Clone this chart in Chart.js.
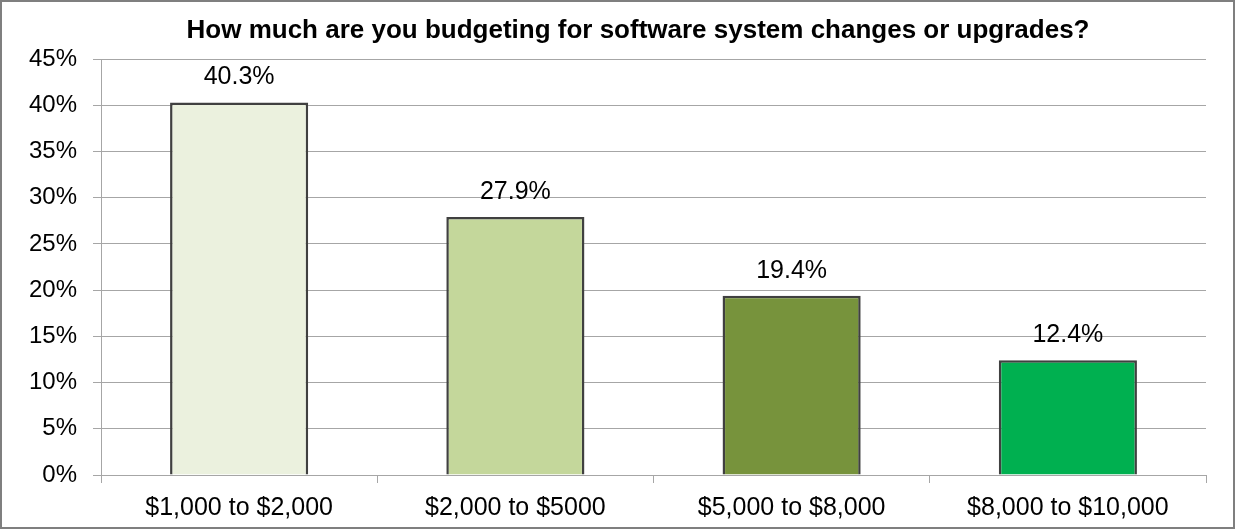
<!DOCTYPE html>
<html>
<head>
<meta charset="utf-8">
<title>Software budget</title>
<script src="https://cdn.jsdelivr.net/npm/chart.js@4.4.1/dist/chart.umd.min.js"></script>
<style>
    html, body { margin: 0; padding: 0; background: #fff; }
    canvas { display: block; }
</style>
</head>
<body>
<canvas id="budgetChart" width="1235" height="529"></canvas>
<script>
const chartTitle = "How much are you budgeting for software system changes or upgrades?";
const budgetRanges = ["$1,000 to $2,000", "$2,000 to $5000", "$5,000 to $8,000", "$8,000 to $10,000"];
const shares = [40.3, 27.9, 19.4, 12.4]; // percent of respondents
const barColors = ["#EBF1DE", "#C4D79B", "#77933C", "#00B050"];
const yTicks = [0, 5, 10, 15, 20, 25, 30, 35, 40, 45];

const FONT = '"Liberation Sans", Arial, sans-serif';
const gridGrey = "#a6a6a6";

Chart.defaults.font.family = FONT;
Chart.defaults.color = "#000";

// white page, thin grey frame and the bold title (Excel puts it a bit right of centre)
const frame = {
    id: "frame",
    beforeDraw(chart) {
        const { ctx, width, height } = chart;
        ctx.save();
        ctx.fillStyle = "#fff";
        ctx.fillRect(0, 0, width, height);
        ctx.strokeStyle = "#7f7f7f";
        ctx.lineWidth = 2;
        ctx.strokeRect(1, 1, width - 2, height - 2);
        ctx.font = `bold 26px ${FONT}`;
        ctx.fillStyle = "#000";
        ctx.textAlign = "center";
        ctx.textBaseline = "middle";
        ctx.fillText(chartTitle, 638, 31);
        ctx.restore();
    },
};

// the value printed above each bar
const valueLabels = {
    id: "valueLabels",
    afterDatasetsDraw(chart) {
        const { ctx } = chart;
        const meta = chart.getDatasetMeta(0);
        ctx.save();
        ctx.font = `25px ${FONT}`;
        ctx.fillStyle = "#000";
        ctx.textAlign = "center";
        ctx.textBaseline = "middle";
        meta.data.forEach((bar, i) => {
            ctx.fillText(shares[i].toFixed(1) + "%", bar.x, bar.y - 25);
        });
        ctx.restore();
    },
};

new Chart(document.getElementById("budgetChart"), {
    type: "bar",
    data: {
        labels: budgetRanges,
        datasets: [{
            data: shares,
            backgroundColor: barColors,
            borderColor: "#404040",
            borderWidth: 2.5,
            barPercentage: 0.5,
            categoryPercentage: 1,
        }],
    },
    options: {
        responsive: false,
        animation: false,
        layout: { padding: { left: 0, right: 29, top: 59, bottom: 0 } },
        plugins: {
            legend: { display: false },
            tooltip: { enabled: false },
            title: { display: false },
        },
        scales: {
            x: {
                grid: {
                    offset: true,
                    drawOnChartArea: false,
                    drawTicks: true,
                    tickLength: 8,
                    color: gridGrey,
                },
                border: { display: true, color: gridGrey },
                ticks: { font: { size: 25 }, padding: 10, maxRotation: 0 },
                afterFit(scale) { scale.height = 54; },
            },
            y: {
                min: 0,
                max: yTicks[yTicks.length - 1],
                afterBuildTicks(scale) {
                    scale.ticks = yTicks.map((v) => ({ value: v }));
                },
                grid: { color: gridGrey, tickLength: 8 },
                border: { display: true, color: gridGrey },
                ticks: {
                    font: { size: 24 },
                    padding: 16,
                    callback: (v) => v + "%",
                },
                afterFit(scale) { scale.width = 101; },
            },
        },
    },
    plugins: [frame, valueLabels],
});
</script>
</body>
</html>
